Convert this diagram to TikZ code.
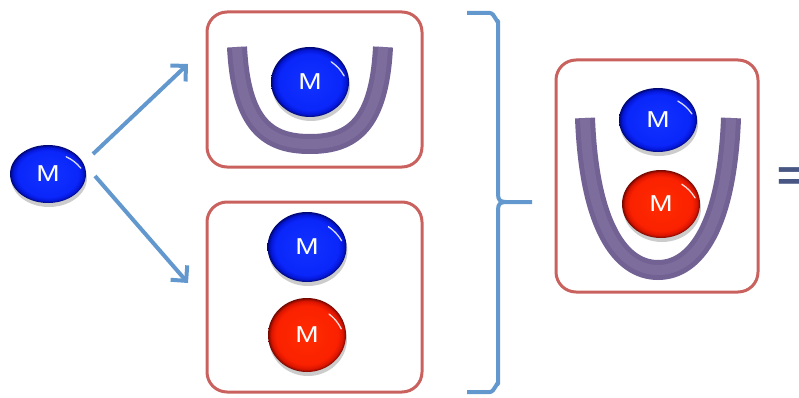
\documentclass[tikz,border=0pt]{standalone}
\usepackage{fontspec}
\setmainfont{Liberation Sans}
\usetikzlibrary{shapes.geometric,arrows.meta,shadows}

% glossy fills for the two kinds of particle
\pgfdeclareradialshading{blueballshade}{\pgfpoint{0bp}{0bp}}{%
  rgb(0bp)=(0.07,0.2,1); rgb(20bp)=(0.04,0.15,0.98); rgb(23bp)=(0.02,0.09,0.85);
  rgb(25bp)=(0,0.03,0.45); rgb(50bp)=(0,0.03,0.45)}
\pgfdeclareradialshading{redballshade}{\pgfpoint{0bp}{0bp}}{%
  rgb(0bp)=(1,0.17,0); rgb(20bp)=(0.98,0.13,0); rgb(23bp)=(0.86,0.08,0);
  rgb(25bp)=(0.45,0.03,0); rgb(50bp)=(0.45,0.03,0)}

\definecolor{boxcol}{RGB}{201,98,94}
\definecolor{flowcol}{RGB}{98,152,206}
\definecolor{tubecol}{RGB}{114,97,147}
\definecolor{tubelight}{RGB}{128,112,160}
\definecolor{eqcol}{RGB}{72,86,132}

\tikzset{
  particle/.style={ellipse, inner sep=0pt, text=white,
    font=\fontsize{23}{23}\selectfont,
    drop shadow={shadow xshift=1pt, shadow yshift=-4pt, opacity=0.2, fill=black}},
  blueparticle/.style={particle, shading=blueballshade},
  redparticle/.style={particle, shading=redballshade},
  gloss/.style={draw=white, line width=1.3pt, opacity=0.85, line cap=round},
  frame/.style={draw=boxcol, line width=3pt, rounded corners=20pt, inner sep=0pt},
  flow/.style={draw=flowcol, line width=4pt,
    -{Straight Barb[length=11pt, width=22pt]}},
  tube/.style={draw=tubecol, line width=20pt},
  tubeglow/.style={draw=tubelight, line width=10pt, opacity=0.8},
  bracket/.style={draw=flowcol, line width=4pt},
}

\newcommand{\glint}[1]{%
  \draw[gloss] ([shift={(-5,6)}]#1.45) to[bend left=12] ([shift={(-4,2)}]#1.12);}
\newcommand{\mlabel}{\scalebox{1.22}[1]{M}}

\begin{document}
\begin{tikzpicture}[x=1pt, y=-1pt]
  \useasboundingbox (0,0) rectangle (799,398);

  % framed states
  \node[frame, minimum width=215pt, minimum height=155pt] (upper) at (314.5,89.5) {};
  \node[frame, minimum width=215pt, minimum height=190pt] (lower) at (314.5,297) {};
  \node[frame, minimum width=202pt, minimum height=232pt] (result) at (657,176) {};

  % potential wells
  \draw[tube] (237,47) .. controls (241,125) and (268,144) .. (310,144)
                       .. controls (352,144) and (379,125) .. (383,47);
  \draw[tubeglow] (237,47) .. controls (241,125) and (268,144) .. (310,144)
                       .. controls (352,144) and (379,125) .. (383,47);
  \draw[tube] (585,118) .. controls (589,225) and (620,270) .. (658,270)
                        .. controls (696,270) and (727,225) .. (731,118);
  \draw[tubeglow] (585,118) .. controls (589,225) and (620,270) .. (658,270)
                        .. controls (696,270) and (727,225) .. (731,118);

  % particles
  \node[blueparticle, minimum width=76pt, minimum height=58pt] (src) at (48,174) {\mlabel};
  \node[blueparticle, minimum width=78pt, minimum height=70pt] (w1) at (310,82) {\mlabel};
  \node[blueparticle, minimum width=79pt, minimum height=70pt] (f1) at (307,247) {\mlabel};
  \node[redparticle,  minimum width=78pt, minimum height=74pt] (f2) at (307,335) {\mlabel};
  \node[blueparticle, minimum width=78pt, minimum height=64pt] (r1) at (658,120) {\mlabel};
  \node[redparticle,  minimum width=78pt, minimum height=68pt] (r2) at (661,204) {\mlabel};
  \foreach \p in {src,w1,f1,f2,r1,r2} {\glint{\p}}

  % branching arrows
  \coordinate (tipup) at (188,64);
  \coordinate (tipdown) at (188,283);
  \draw[flow] ([shift={(45,-20)}]src.center) -- (tipup);
  \draw[flow] ([shift={(47,2)}]src.center) -- (tipdown);

  % bracket joining both cases
  \draw[bracket, line join=round] (467,13) -- (490,13) to[out=0, in=-90] (498,21) -- (498,194)
     .. controls (498,200) and (500,202) .. (506,202) -- (532,202);
  \draw[bracket, line join=round] (506,202) .. controls (500,202) and (498,204) .. (498,210)
     -- (498,384) to[out=90, in=0] (490,392) -- (467,392);

  % equals sign at the edge
  \node[anchor=base west, inner sep=0pt, text=eqcol,
        font=\fontsize{44}{44}\selectfont\bfseries] (eq) at (777,190) {=};
\end{tikzpicture}
\end{document}
